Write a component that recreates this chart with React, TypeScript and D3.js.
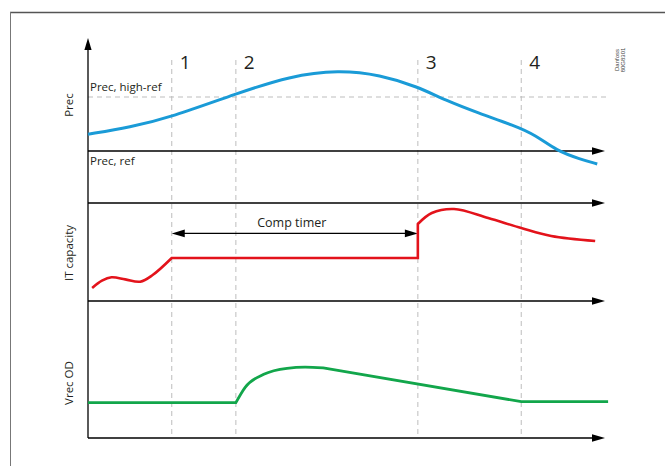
import React from "react";
import * as d3 from "d3";

type P = [number, number];

const phaseLabels = ["1", "2", "3", "4"];
const phaseTimes = [16.2, 28.6, 63.8, 83.8];
const panelLabels = ["Prec", "IT capacity", "Vrec OD"];
const refLabels = ["Prec, high-ref", "Prec, ref"];
const timerLabel = "Comp timer";
const stampLines = ["Danfoss", "80G8301"];

// Prec (1 = high-ref, 0 = ref)
const precSeries: P[] = [
  [0, 0.31], [8.1, 0.44], [16.2, 0.63], [28.6, 1.06], [39.1, 1.39], [48.5, 1.5],
  [56.5, 1.41], [63.8, 1.19], [69.1, 0.94], [75.6, 0.7], [82.5, 0.47], [86.5, 0.3],
  [90.7, 0], [95.2, -0.15], [98.5, -0.24],
];

// IT capacity (%)
const capWiggle: P[] = [
  [0.8, 13.3], [2.7, 20.7], [4.55, 24.2], [7.2, 22.1], [10.1, 19.7], [12.5, 26.5], [16.2, 43.9],
];
const capHold: P[] = [[16.2, 43.9], [63.8, 43.9], [63.8, 78.6]];
const capRecover: P[] = [
  [63.8, 78.6], [66.5, 89.8], [70.8, 93.9], [77.4, 84.7], [83.8, 74.5], [89.6, 66.3], [98.1, 61.2],
];
const timerLevel = 69;
const timerLabelLevel = 75.5;

// Vrec OD (%)
const vrecStart: P[] = [[0, 25.8], [28.6, 25.8]];
const vrecRise: P[] = [[28.6, 25.8], [30.4, 37], [34.0, 46.5], [38.5, 50.9], [42.0, 51.7], [45.5, 51.2]];
const vrecFall: P[] = [[45.5, 51.2], [83.8, 26.5], [100.6, 26.5]];

const W = 665;
const H = 466;

export default function App() {
  const x = d3.scaleLinear().domain([0, 100]).range([88, 605]);
  const yPrec = d3.scaleLinear().domain([0, 1]).range([151, 97]);
  const yCap = d3.scaleLinear().domain([0, 100]).range([301, 203]);
  const yVrec = d3.scaleLinear().domain([0, 100]).range([438, 301]);

  const seg = (pts: P[], ys: d3.ScaleLinear<number, number>, curve: d3.CurveFactory) =>
    d3.line<P>().x((d) => x(d[0])).y((d) => ys(d[1])).curve(curve)(pts) as string;
  const joinSegs = (parts: string[]) =>
    parts.map((s, i) => (i === 0 ? s : s.replace(/^M/, "L"))).join("");

  const precPath = seg(precSeries, yPrec, d3.curveBasis);
  const capPath = joinSegs([
    seg(capWiggle, yCap, d3.curveCatmullRom),
    seg(capHold, yCap, d3.curveLinear),
    seg(capRecover, yCap, d3.curveCatmullRom),
  ]);
  const vrecPath = joinSegs([
    seg(vrecStart, yVrec, d3.curveLinear),
    seg(vrecRise, yVrec, d3.curveMonotoneX),
    seg(vrecFall, yVrec, d3.curveLinear),
  ]);

  const x0 = x(0);
  const xEnd = x(100);
  const axisYs = [yPrec(0), yCap(100), yCap(0), yVrec(0)];
  const headLen = 13;
  const headHalf = 3.8;
  const font = "'Open Sans', 'Noto Sans', sans-serif";
  const txt = "#231f20";

  const tY = yCap(timerLevel);
  const tA = x(phaseTimes[0]);
  const tB = x(phaseTimes[2]);

  return (
    <svg width={W} height={H} style={{ position: "absolute", left: 0, top: 0, background: "#fff" }}>
      <rect x={0} y={0} width={W} height={H} fill="#fff" />
      {/* frame */}
      <line x1={10} y1={12.5} x2={W} y2={12.5} stroke="#555" strokeWidth={1.6} />
      <line x1={10.5} y1={12} x2={10.5} y2={H} stroke="#777" strokeWidth={1} />

      {/* phase dashed lines */}
      {phaseTimes.map((t, i) => (
        <g key={i}>
          <line x1={x(t)} x2={x(t)} y1={60} y2={yVrec(0)} stroke="#bdbdbd" strokeWidth={1} strokeDasharray="5,4" />
          <text x={x(t) + 8} y={69} fontSize={19} fontFamily={font} fill={txt}>
            {phaseLabels[i]}
          </text>
        </g>
      ))}

      {/* high-ref dashed line */}
      <line x1={x0} x2={x(100.3)} y1={yPrec(1)} y2={yPrec(1)} stroke="#bdbdbd" strokeWidth={1} strokeDasharray="5,4" />
      <text x={x0 + 2} y={yPrec(1) - 6} fontSize={11.5} fontFamily={font} fill={txt}>
        {refLabels[0]}
      </text>
      <text x={x0 + 2} y={yPrec(0) + 14} fontSize={11.5} fontFamily={font} fill={txt}>
        {refLabels[1]}
      </text>

      {/* horizontal axes */}
      {axisYs.map((ay, i) => (
        <g key={i}>
          <line x1={x0} x2={xEnd - headLen + 1} y1={ay} y2={ay} stroke="#000" strokeWidth={1.3} />
          <polygon
            points={`${xEnd},${ay} ${xEnd - headLen},${ay - headHalf} ${xEnd - headLen},${ay + headHalf}`}
            fill="#000"
          />
        </g>
      ))}
      {/* vertical axis */}
      <line x1={x0} x2={x0} y1={yVrec(0)} y2={49} stroke="#000" strokeWidth={1.3} />
      <polygon points={`${x0},38 ${x0 - 3.6},50 ${x0 + 3.6},50`} fill="#000" />

      {/* panel labels */}
      {[
        { label: panelLabels[0], cy: 105 },
        { label: panelLabels[1], cy: 253 },
        { label: panelLabels[2], cy: 383 },
      ].map((p, i) => (
        <text
          key={i}
          transform={`translate(72.5,${p.cy}) rotate(-90)`}
          textAnchor="middle"
          fontSize={11.5}
          fontFamily={font}
          fill={txt}
        >
          {p.label}
        </text>
      ))}

      {/* comp timer */}
      <line x1={tA + headLen - 1} x2={tB - headLen + 1} y1={tY} y2={tY} stroke="#000" strokeWidth={1.2} />
      <polygon points={`${tA},${tY} ${tA + headLen},${tY - headHalf} ${tA + headLen},${tY + headHalf}`} fill="#000" />
      <polygon points={`${tB},${tY} ${tB - headLen},${tY - headHalf} ${tB - headLen},${tY + headHalf}`} fill="#000" />
      <text x={(tA + tB) / 2 - 3} y={yCap(timerLabelLevel)} textAnchor="middle" fontSize={12.5} fontFamily={font} fill={txt}>
        {timerLabel}
      </text>

      {/* curves */}
      <path d={precPath} fill="none" stroke="#1a9bd7" strokeWidth={3} strokeLinecap="butt" />
      <path d={capPath} fill="none" stroke="#e3131b" strokeWidth={2.6} strokeLinejoin="miter" />
      <path d={vrecPath} fill="none" stroke="#12a64b" strokeWidth={2.8} strokeLinejoin="miter" />

      {/* stamp */}
      {stampLines.map((s, i) => (
        <text
          key={i}
          transform={`translate(${619 + i * 6},60) rotate(-90)`}
          textAnchor="middle"
          fontSize={6}
          fontFamily="'Liberation Sans', Arial, sans-serif"
          fill="#444"
        >
          {s}
        </text>
      ))}
    </svg>
  );
}
